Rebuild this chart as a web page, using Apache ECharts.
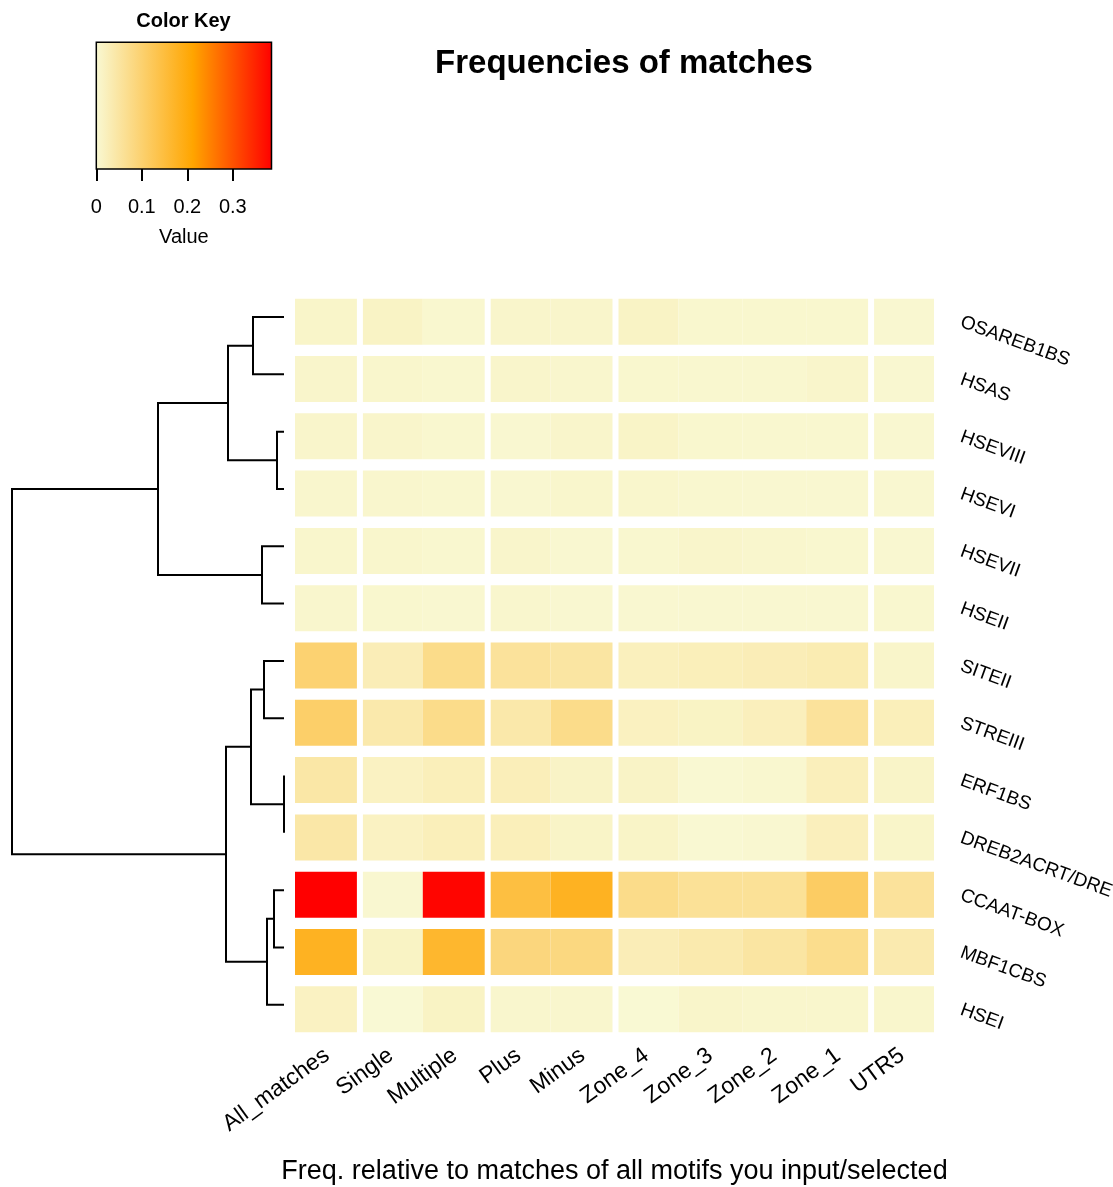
<!DOCTYPE html>
<html><head><meta charset="utf-8">
<script src="https://cdn.jsdelivr.net/npm/echarts@6/dist/echarts.min.js"></script>
<style>html,body{margin:0;padding:0;background:#fff}#c{width:1113px;height:1187px}</style>
</head><body><div id="c"></div>
<script>
const columns = ['All_matches','Single','Multiple','Plus','Minus','Zone_4','Zone_3','Zone_2','Zone_1','UTR5'];
const rows = ['OSAREB1BS','HSAS','HSEVIII','HSEVI','HSEVII','HSEII','SITEII','STREIII','ERF1BS','DREB2ACRT/DRE','CCAAT-BOX','MBF1CBS','HSEI'];

const vOSAREB1BS = [0.011, 0.015, 0.005, 0.009, 0.009, 0.015, 0.006, 0.006, 0.006, 0.004];
const vHSAS      = [0.009, 0.008, 0.005, 0.009, 0.007, 0.006, 0.005, 0.005, 0.009, 0.004];
const vHSEVIII   = [0.009, 0.009, 0.005, 0.004, 0.009, 0.013, 0.006, 0.005, 0.005, 0.004];
const vHSEVI     = [0.007, 0.007, 0.005, 0.004, 0.008, 0.008, 0.005, 0.004, 0.004, 0.004];
const vHSEVII    = [0.008, 0.008, 0.005, 0.009, 0.004, 0.005, 0.009, 0.007, 0.005, 0.004];
const vHSEII     = [0.007, 0.006, 0.004, 0.007, 0.004, 0.004, 0.004, 0.004, 0.004, 0.005];
const vSITEII    = [0.099, 0.029, 0.074, 0.057, 0.050, 0.023, 0.026, 0.029, 0.034, 0.010];
const vSTREIII   = [0.107, 0.040, 0.074, 0.042, 0.074, 0.020, 0.016, 0.024, 0.057, 0.026];
const vERF1BS    = [0.046, 0.018, 0.026, 0.027, 0.014, 0.014, 0.002, 0.005, 0.025, 0.012];
const vDREB2A    = [0.045, 0.018, 0.026, 0.026, 0.013, 0.013, 0.002, 0.004, 0.024, 0.011];
const vCCAAT     = [0.385, 0.004, 0.380, 0.147, 0.178, 0.074, 0.061, 0.061, 0.113, 0.057];
const vMBF1CBS   = [0.178, 0.016, 0.166, 0.087, 0.084, 0.029, 0.038, 0.050, 0.071, 0.037];
const vHSEI      = [0.018, 0.000, 0.016, 0.007, 0.007, 0.001, 0.010, 0.008, 0.008, 0.008];
const rowValues = [vOSAREB1BS, vHSAS, vHSEVIII, vHSEVI, vHSEVII, vHSEII, vSITEII, vSTREIII, vERF1BS, vDREB2A, vCCAAT, vMBF1CBS, vHSEI];

// column separators after these column indices
const colSeparators = [0, 2, 4, 8];

// dendrogram merges (negative = leaf row number, positive = earlier merge), with height
const merges = [
  [-9, -10, 0.00],
  [-3, -4, 0.07],
  [-11, -12, 0.10],
  [3, -13, 0.17],
  [-7, -8, 0.20],
  [-5, -6, 0.22],
  [-1, -2, 0.31],
  [5, 1, 0.33],
  [7, 2, 0.56],
  [8, 4, 0.58],
  [9, 6, 1.26],
  [11, 10, 2.72]
];

const keyTicks = [0, 0.1, 0.2, 0.3];
const keyMin = 0, keyMax = 0.385;

const colorStops = [[0, [249,249,212]], [0.55, [255,165,0]], [1, [255,0,0]]];
function colorOf(v){
  let t = (v - keyMin) / (keyMax - keyMin);
  t = Math.max(0, Math.min(1, t));
  for (let i = 1; i < colorStops.length; i++) {
    if (t <= colorStops[i][0]) {
      const a = colorStops[i-1], b = colorStops[i];
      const f = (t - a[0]) / (b[0] - a[0]);
      const c = a[1].map((x, k) => Math.round(x + (b[1][k] - x) * f));
      return 'rgb(' + c.join(',') + ')';
    }
  }
  return 'rgb(255,0,0)';
}

const heatData = [];
rowValues.forEach((arr, r) => arr.forEach((v, c) => heatData.push([c, r, v])));

const nodeY = [], nodeH = [];
function pos(id){ return id < 0 ? {y: -id - 1, h: 0} : {y: nodeY[id - 1], h: nodeH[id - 1]}; }
const dendroData = merges.map((m, i) => {
  const a = pos(m[0]), b = pos(m[1]);
  nodeY[i] = (a.y + b.y) / 2; nodeH[i] = m[2];
  return [a.y, b.y, a.h, b.h, m[2]];
});

const FONT = '"Liberation Sans", Arial, Helvetica, sans-serif';
const chart = echarts.init(document.getElementById('c'), null, {renderer: 'canvas'});

chart.setOption({
  backgroundColor: '#fff',
  animation: false,
  textStyle: {fontFamily: FONT},
  graphic: [
    {type: 'text', x: 624, y: 64, style: {text: 'Frequencies of matches', font: 'bold 33px ' + FONT, fill: '#000', textAlign: 'center', textVerticalAlign: 'middle'}},
    {type: 'text', x: 183.5, y: 21, style: {text: 'Color Key', font: 'bold 20px ' + FONT, fill: '#000', textAlign: 'center', textVerticalAlign: 'middle'}}
  ],
  grid: [
    {left: 295, top: 293, width: 639, height: 745, containLabel: false, outerBoundsMode: 'none'},
    {left: 0, top: 288.4, width: 284, height: 745, containLabel: false, outerBoundsMode: 'none'},
    {left: 96.3, top: 42.3, width: 175.2, height: 126.7, containLabel: false, outerBoundsMode: 'none'}
  ],
  xAxis: [
    {type: 'category', gridIndex: 0, data: columns, position: 'bottom',
     axisLine: {show: false}, axisTick: {show: false}, splitLine: {show: false},
     axisLabel: {rotate: 36, margin: 15, fontSize: 23, color: '#000', fontFamily: FONT, interval: 0},
     name: 'Freq. relative to matches of all motifs you input/selected', nameLocation: 'middle', nameGap: 120,
     nameTextStyle: {fontSize: 27, color: '#000', fontFamily: FONT}},
    {type: 'value', gridIndex: 1, min: 0, max: 2.84, inverse: true, show: false},
    {type: 'value', gridIndex: 2, min: keyMin, max: keyMax,
     axisLine: {show: false}, splitLine: {show: false},
     axisTick: {show: true, customValues: keyTicks, length: 12, lineStyle: {color: '#000', width: 2}},
     axisLabel: {customValues: keyTicks, margin: 28, fontSize: 20, color: '#000', fontFamily: FONT,
                 formatter: v => String(Math.round(v * 10) / 10)},
     name: 'Value', nameLocation: 'middle', nameGap: 58, nameTextStyle: {fontSize: 20, color: '#000', fontFamily: FONT}}
  ],
  yAxis: [
    {type: 'category', gridIndex: 0, data: rows, inverse: true, position: 'right',
     axisLine: {show: false}, axisTick: {show: false}, splitLine: {show: false},
     axisLabel: {rotate: -20, margin: 27, fontSize: 19, color: '#000', fontFamily: FONT, interval: 0}},
    {type: 'value', gridIndex: 1, min: -0.5, max: 12.5, inverse: true, show: false},
    {type: 'value', gridIndex: 2, min: 0, max: 1, show: false}
  ],
  series: [
    {type: 'custom', xAxisIndex: 0, yAxisIndex: 0, data: heatData, encode: {x: 0, y: 1},
     renderItem: function(params, api){
       const col = api.value(0), row = api.value(1), v = api.value(2);
       const c = api.coord([col, row]);
       const s = api.size([1, 1]);
       let x0 = c[0] - s[0] / 2, x1 = c[0] + s[0] / 2;
       if (colSeparators.indexOf(col) >= 0) x1 -= 2;
       if (colSeparators.indexOf(col - 1) >= 0) x0 += 4;
       const h = s[1] - 11.3;
       return {type: 'rect', shape: {x: x0, y: c[1] - h / 2, width: x1 - x0, height: h},
               style: {fill: colorOf(v), stroke: null}};
     }},
    {type: 'custom', xAxisIndex: 1, yAxisIndex: 1, data: dendroData, encode: {x: [2, 3, 4], y: [0, 1]},
     renderItem: function(params, api){
       const yA = api.value(0), yB = api.value(1), hA = api.value(2), hB = api.value(3), h = api.value(4);
       const pts = [api.coord([hA, yA]), api.coord([h, yA]), api.coord([h, yB]), api.coord([hB, yB])];
       return {type: 'polyline', shape: {points: pts}, style: {stroke: '#000', lineWidth: 2, fill: null}};
     }},
    {type: 'custom', xAxisIndex: 2, yAxisIndex: 2, data: [[keyMin, keyMax]], encode: {x: [0, 1]},
     renderItem: function(params, api){
       const p0 = api.coord([api.value(0), 1]);
       const p1 = api.coord([api.value(1), 0]);
       const grad = {type: 'linear', x: 0, y: 0, x2: 1, y2: 0,
         colorStops: colorStops.map(s => ({offset: s[0], color: 'rgb(' + s[1].join(',') + ')'}))};
       return {type: 'rect', shape: {x: p0[0], y: p0[1], width: p1[0] - p0[0], height: p1[1] - p0[1]},
               style: {fill: grad, stroke: '#000', lineWidth: 1.5}};
     }}
  ]
});
</script></body></html>
